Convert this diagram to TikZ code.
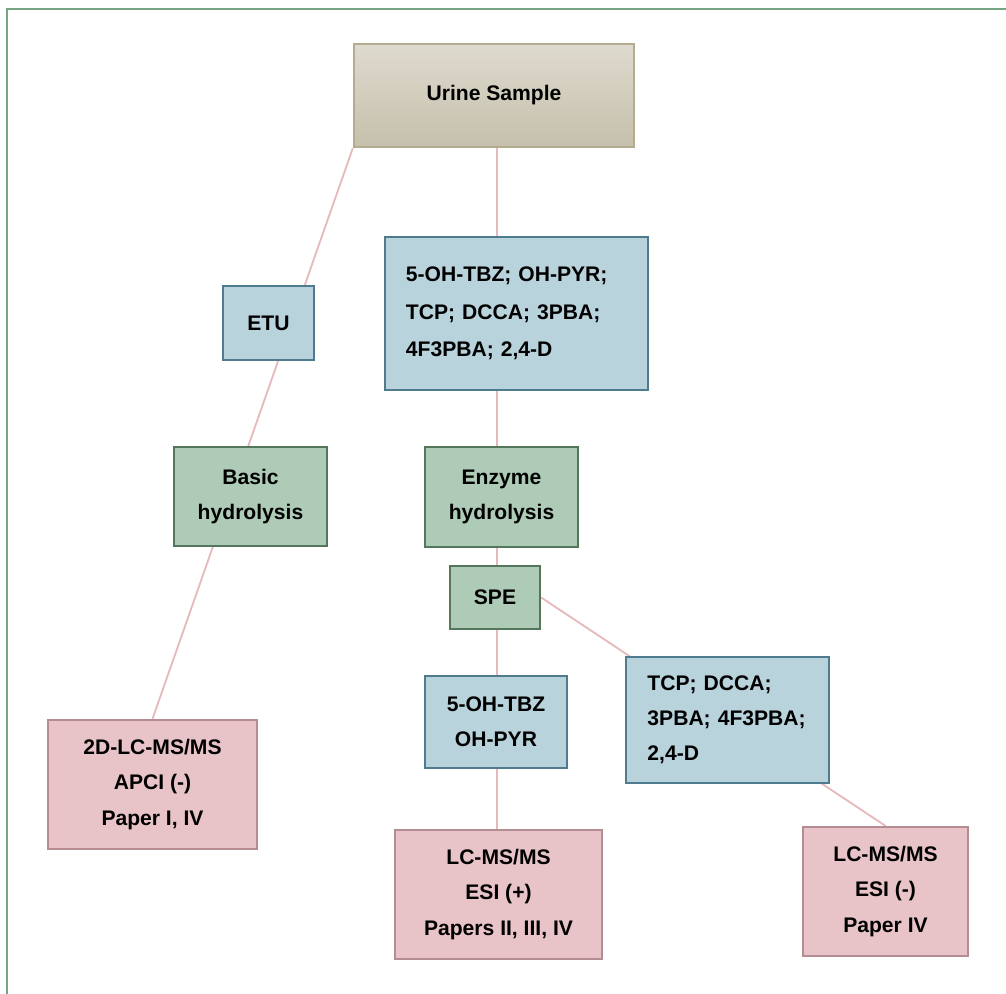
\documentclass[tikz,border=0pt]{standalone}
\usepackage{fontspec}
\setmainfont{Liberation Sans}
\usepackage{tikz}

\definecolor{framegreen}{HTML}{76A585}
\definecolor{tantop}{HTML}{DEDACE}
\definecolor{tanbot}{HTML}{C5C0AC}
\definecolor{tanline}{HTML}{B3AC91}
\definecolor{bluefill}{HTML}{B9D3DC}
\definecolor{blueline}{HTML}{4E7B8D}
\definecolor{greenfill}{HTML}{ADCBB6}
\definecolor{greenline}{HTML}{54775C}
\definecolor{pinkfill}{HTML}{E8C4C8}
\definecolor{pinkline}{HTML}{B48D93}
\definecolor{linkpink}{HTML}{E6B9BC}

\tikzset{
	box/.style={draw, line width=1.6pt, inner sep=0pt, align=center, font=\fontsize{15}{25}\selectfont\bfseries},
	sample/.style={box, draw=tanline, top color=tantop, bottom color=tanbot},
	analyte/.style={box, draw=blueline, fill=bluefill},
	prep/.style={box, draw=greenline, fill=greenfill},
	method/.style={box, draw=pinkline, fill=pinkfill},
	link/.style={draw=linkpink, line width=1.3pt}
}

\begin{document}
\begin{tikzpicture}[x=0.025cm, y=-0.025cm]
				\pgfdeclarelayer{bg}
				\pgfsetlayers{bg,main}
				\useasboundingbox (0,0) rectangle (1006,993);
				\draw[framegreen, line width=1.8pt] (7,9) rectangle (1030,1020);
				\node[sample, minimum width=7cm, minimum height=2.575cm] (urine) at (494,95.5) {Urine Sample};
				\node[analyte, minimum width=2.275cm, minimum height=1.85cm] (etu) at (268.5,323) {ETU};
				\node[analyte, minimum width=6.575cm, minimum height=3.825cm, text width=5.525cm, align=left, font=\fontsize{15}{26.7}\selectfont\bfseries] (list) at (516.5,313.5) {5-OH-TBZ; OH-PYR;\\TCP; DCCA; 3PBA;\\4F3PBA; 2,4-D};
				\node[prep, minimum width=3.825cm, minimum height=2.475cm] (basic) at (250.5,496.5) {Basic\\hydrolysis};
				\node[prep, minimum width=3.825cm, minimum height=2.5cm] (enzyme) at (501.5,497) {Enzyme\\hydrolysis};
				\node[prep, minimum width=2.25cm, minimum height=1.575cm] (spe) at (495,597.5) {SPE};
				\node[analyte, minimum width=3.55cm, minimum height=2.3cm] (tbz) at (496,722) {5-OH-TBZ\\OH-PYR};
				\node[analyte, minimum width=5.075cm, minimum height=3.15cm, text width=4cm, align=left] (tcp) at (727.5,720) {TCP; DCCA;\\3PBA; 4F3PBA;\\2,4-D};
				\node[method, minimum width=5.225cm, minimum height=3.225cm] (apci) at (152.5,784.5) {2D-LC-MS/MS\\APCI (-)\\Paper I, IV};
				\node[method, minimum width=5.175cm, minimum height=3.225cm] (esipos) at (498.5,894.5) {LC-MS/MS\\ESI (+)\\Papers II, III, IV};
				\node[method, minimum width=4.125cm, minimum height=3.225cm] (esineg) at (885.5,891.5) {LC-MS/MS\\ESI (-)\\Paper IV};
				\coordinate (spine) at (497,0);
				\begin{pgfonlayer}{bg}
					\draw[link] (urine.south west) -- (apci.north);
					\draw[link] (urine.south -| spine) -- (esipos.north -| spine);
					\draw[link] (spe.east) -- (esineg.north);
				\end{pgfonlayer}
			\end{tikzpicture}
\end{document}
